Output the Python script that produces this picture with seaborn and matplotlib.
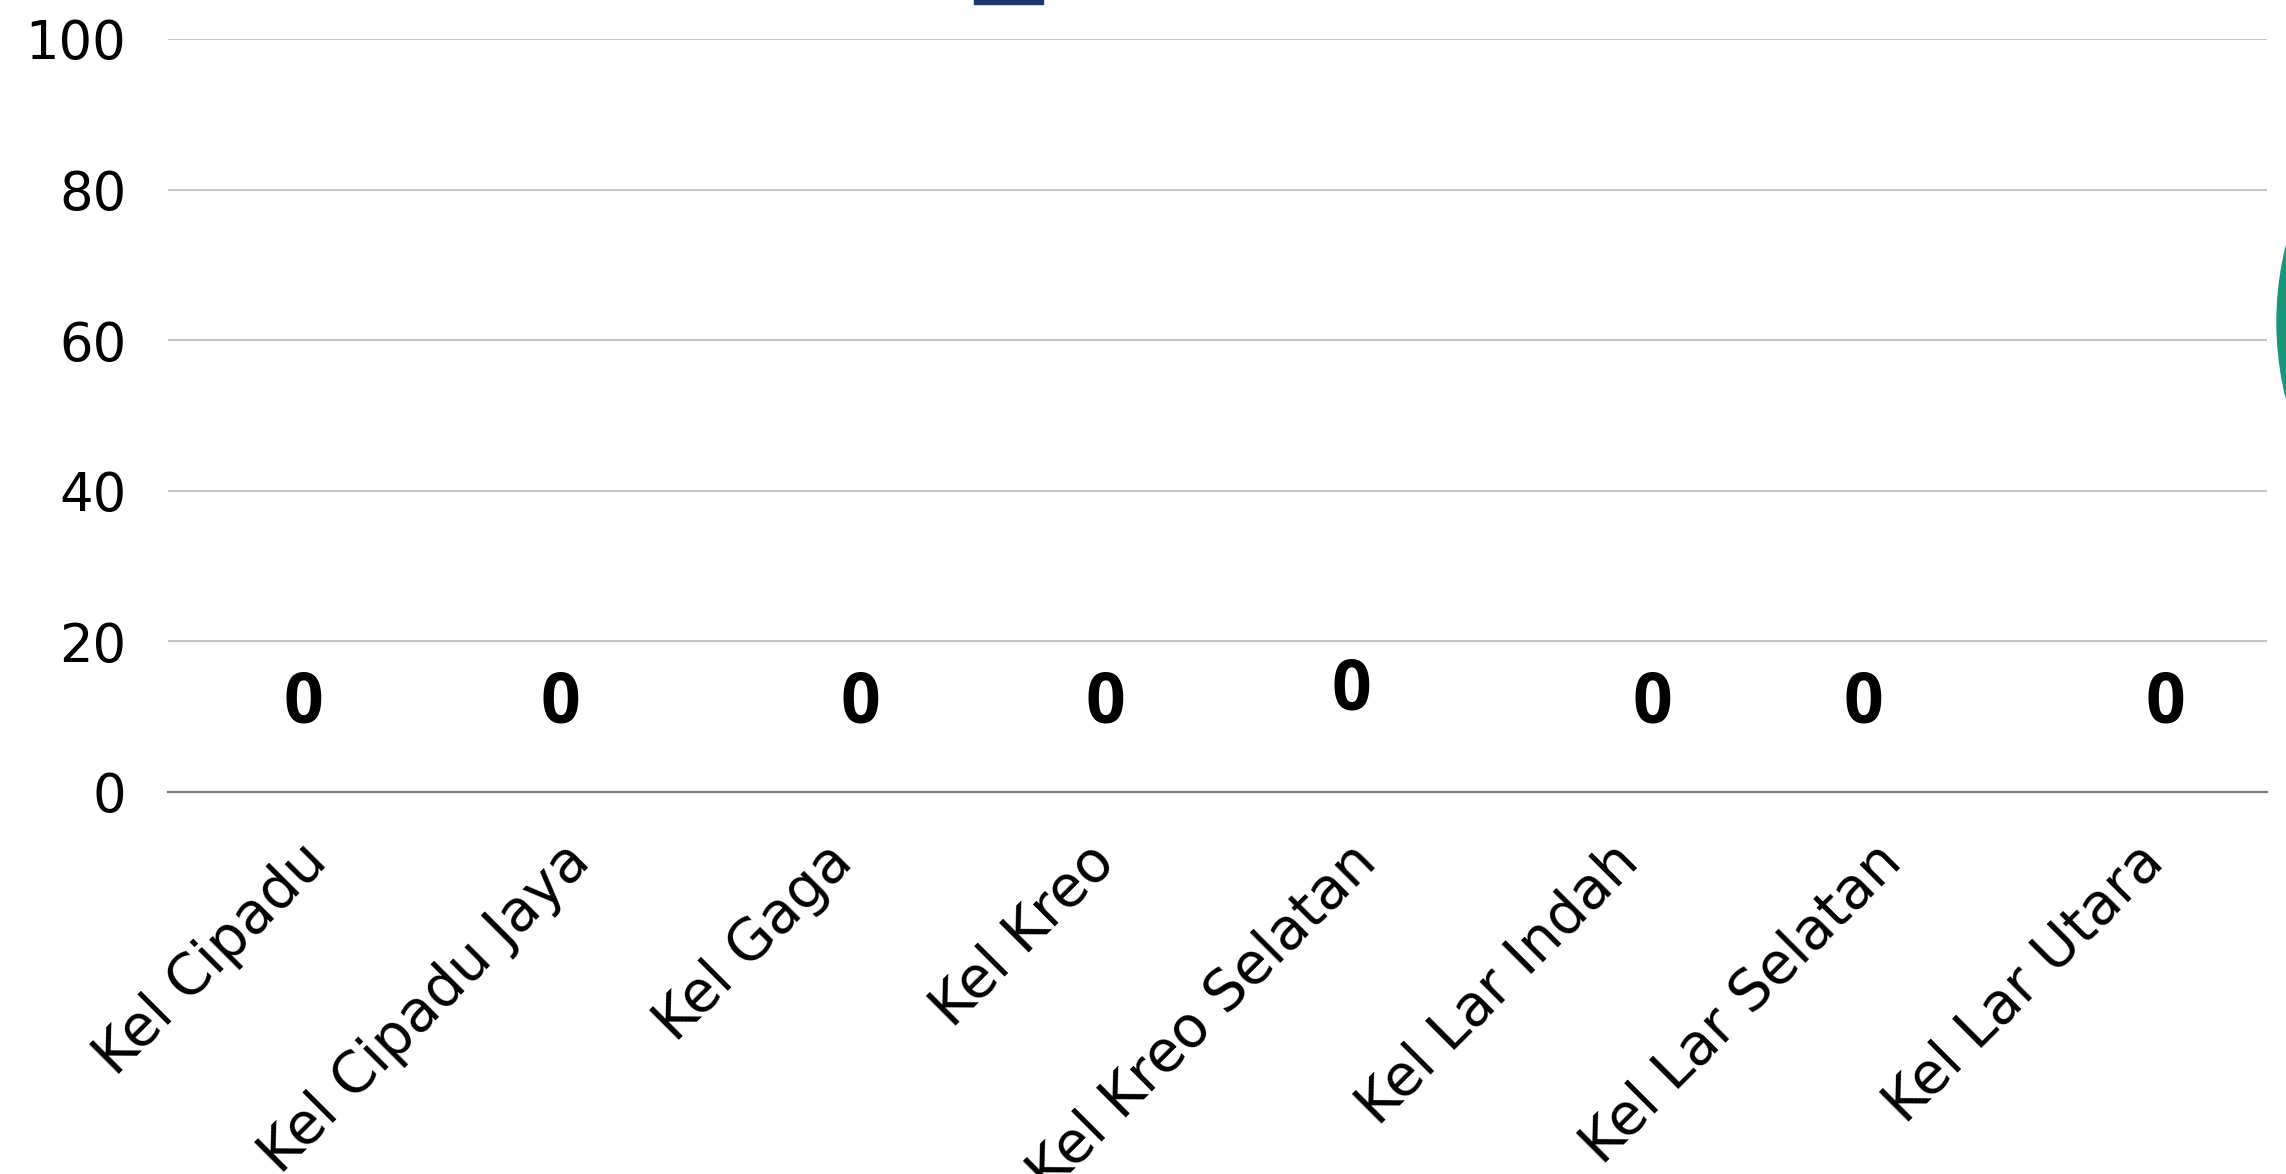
import matplotlib
matplotlib.use("Agg")
import matplotlib.pyplot as plt
import seaborn as sns
import pandas as pd
from matplotlib.patches import Rectangle, Ellipse

# data
kelurahan = ["Kel Cipadu", "Kel Cipadu Jaya", "Kel Gaga", "Kel Kreo",
             "Kel Kreo Selatan", "Kel Lar Indah", "Kel Lar Selatan", "Kel Lar Utara"]
jumlah = [0, 0, 0, 0, 0, 0, 0, 0]
y_ticks = [0, 20, 40, 60, 80, 100]

# label nudges (points) as seen in the original
label_dx = [3, -1, 26, 14, 2, 30, -7, 21]
label_dy = [63, 63, 63, 63, 72, 63, 63, 63]

sns.set_theme(style="white")
plt.rcParams['font.family'] = ['DejaVu Sans']
plt.rcParams['text.color'] = 'black'
plt.rcParams['xtick.color'] = 'black'
plt.rcParams['ytick.color'] = 'black'

df = pd.DataFrame({"Kelurahan": kelurahan, "Jumlah": jumlah})

W, H = 2286, 1174
fig = plt.figure(figsize=(W / 100, H / 100), dpi=100)
ax = fig.add_axes([0.0735, 0.3254, 0.9182, 0.6414])

sns.barplot(data=df, x="Kelurahan", y="Jumlah", color="#173a6b", ax=ax, width=0.6)

ax.set_ylim(0, 100)
ax.set_yticks(y_ticks)
ax.yaxis.grid(True, color="#c4c4c4", linewidth=1.4)
ax.set_axisbelow(True)
for s in ["top", "right", "left"]:
    ax.spines[s].set_visible(False)
ax.spines["bottom"].set_color("#808080")
ax.spines["bottom"].set_linewidth(1.6)
ax.tick_params(axis="both", length=0)
ax.tick_params(axis="y", labelsize=38, pad=30)
ax.set_xlabel("")
ax.set_ylabel("")
ax.set_xticks(range(len(kelurahan)))
ax.set_xticklabels(kelurahan, rotation=45, ha="right", rotation_mode="anchor",
                   fontsize=41)
ax.tick_params(axis="x", pad=30)

for i, v in enumerate(jumlah):
    ax.annotate(str(v), xy=(i, v), xytext=(label_dx[i], label_dy[i]),
                textcoords="offset points", ha="center", va="center", color="black",
                fontsize=50, fontweight="bold", family=["Open Sans", "DejaVu Sans"])

# legend swatch, mostly cut off at the top edge
fig.patches.append(Rectangle((974 / W, 1 - 4 / H), 69 / W, 60 / H,
                             transform=fig.transFigure, color="#173a6b", zorder=5))

# floating green button partly off the right edge
r = 317
fig.patches.append(Ellipse(((2277 + r) / W, 1 - 322 / H), 2 * r / W, 2 * r / H,
                           transform=fig.transFigure, color="#1a957a", zorder=5))

fig.savefig("out.png", dpi=100)
